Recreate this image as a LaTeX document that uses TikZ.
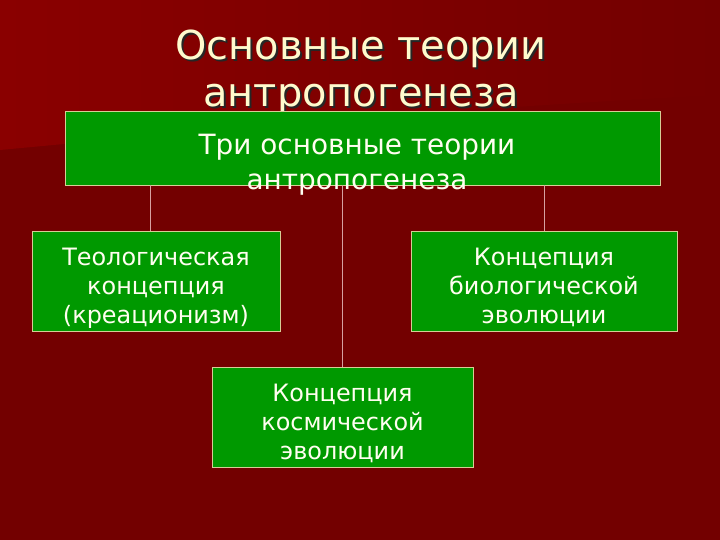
\documentclass[tikz,border=0pt]{standalone}
\usepackage{fontspec}
\setmainfont{DejaVu Sans}
\usetikzlibrary{positioning}
\definecolor{slidered}{RGB}{115,0,0}
\definecolor{slidelight}{RGB}{138,0,0}
\definecolor{boxgreen}{RGB}{0,153,0}
\definecolor{boxline}{RGB}{214,206,150}
\definecolor{linkline}{RGB}{214,160,160}
\definecolor{titlecream}{RGB}{255,250,205}
\tikzstyle{concept} = [
    rectangle, draw=boxline, line width=0.8bp,
    fill=boxgreen, text=white!94!yellow,
    minimum height=100bp, inner sep=0pt,
    text height=88bp, text depth=4bp,
    align=center, font=\fontsize{24}{29}\selectfont]
\tikzstyle{heading} = [
    inner sep=0pt, anchor=north, align=center,
    font=\fontsize{40}{47}\selectfont]
\tikzstyle{link} = [draw=linkline, line width=0.8bp]

\begin{document}
\begin{tikzpicture}[x=1bp, y=-1bp]

  % slide background
  \useasboundingbox (0,0) rectangle (720,540);
  \fill [slidered] (0,0) rectangle (720,540);
  \shade [left color=slidelight, right color=slidered]
      (0,0) -- (720,0) -- (720,95) .. controls (420,110) and (160,135) .. (0,150) -- cycle;

  % title with shadow
  \node (titleshadow) [heading, text=black!85] at (363,32)
      {Основные теории\\антропогенеза};
  \node (title) [heading, text=titlecream] at (361,30)
      {Основные теории\\антропогенеза};

  % boxes
  \node (top) [concept, minimum width=595bp, minimum height=74bp,
      text height=0bp, text depth=0bp] at (362.5,148) {};
  \node (toptext) [heading, text=white!94!yellow,
      font=\fontsize{28}{35}\selectfont] at (357,134)
      {Три основные теории\\антропогенеза};
  \node (theo) [concept, minimum width=248bp] at (156,281)
      {Теологическая\\концепция\\(креационизм)};
  \node (bio) [concept, minimum width=266bp] at (544,281)
      {Концепция\\биологической\\эволюции};
  \node (cosmo) [concept, minimum width=261bp] at (342.5,417)
      {Концепция\\космической\\эволюции};

  % connectors
  \draw [link] ([xshift=-6bp]theo.north) -- ([xshift=-6bp]theo.north |- top.south);
  \draw [link] (bio.north) -- (bio.north |- top.south);
  \draw [link] (cosmo.north) -- (cosmo.north |- top.south);

\end{tikzpicture}
\end{document}
